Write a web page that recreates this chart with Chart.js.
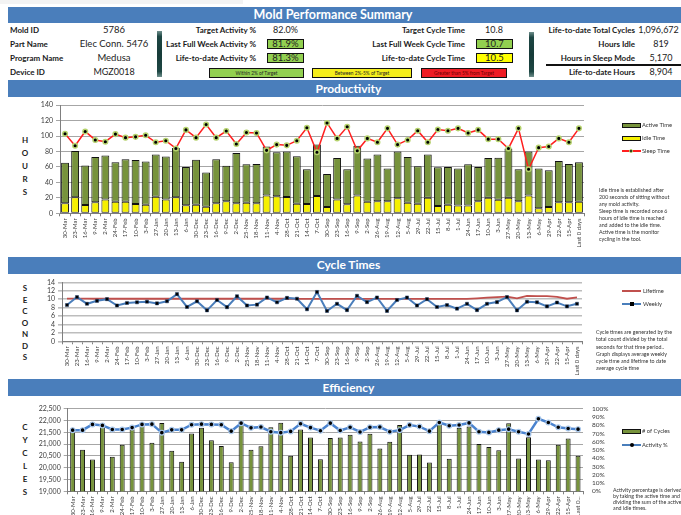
<!DOCTYPE html>
<html>
<head>
<meta charset="utf-8">
<script src="https://cdn.jsdelivr.net/npm/chart.js@4.4.0/dist/chart.umd.min.js"></script>
<style>
  body { margin: 0; background: #fff; font-family: Lato, sans-serif; }
  #page { position: relative; width: 681px; height: 515px; overflow: hidden; }
  .abs { position: absolute; white-space: nowrap; }
  .lbl { position: absolute; white-space: nowrap; font-weight: bold; font-size: 8px; color: #1a1a1a; height: 12px; line-height: 12px; }
  .val { position: absolute; white-space: nowrap; font-size: 9.5px; color: #222; height: 12px; line-height: 12px; text-align: center; }
  .box { position: absolute; box-sizing: border-box; border: 1px solid #111; font-size: 9.5px; text-align: center; line-height: 8px; color: #222; }
  .key { position: absolute; box-sizing: border-box; border: 1px solid #111; font-size: 4.8px; text-align: center; line-height: 8px; color: #222; }
  .band { position: absolute; left: 8px; width: 681px; background: #4a7ebb; color: #fff; font-weight: bold; font-size: 12px; text-align: center; }
  .divider { position: absolute; width: 5px; background: linear-gradient(to bottom, #6f8f8c 0%, #1e4744 12%, #173b39 50%, #1e4744 88%, #6f8f8c 100%); }
  .ytitle { position: absolute; left: 16px; width: 18px; text-align: center; font-weight: bold; font-size: 8px; color: #222; }
  .note { position: absolute; font-size: 5.3px; color: #333; white-space: nowrap; }
  .leg { position: absolute; font-size: 5.8px; color: #333; white-space: nowrap; line-height: 8px; height: 8px; }
  canvas { position: absolute; }
</style>
</head>
<body>
<div id="page">
  <div class="abs" style="left:0;top:0;width:243px;height:4px;background:#f3f3f3"></div>

  <!-- summary header -->
  <div class="band" style="top:7px;height:16px;line-height:16px;font-size:12.5px;text-indent:-31px">Mold Performance Summary</div>

  <div class="lbl" style="left:10px;top:24.3px">Mold ID</div>
  <div class="lbl" style="left:10px;top:37.5px">Part Name</div>
  <div class="lbl" style="left:10px;top:51.5px">Program Name</div>
  <div class="lbl" style="left:10px;top:66.3px">Device ID</div>
  <div class="val" style="left:70px;width:88px;top:24.3px">5786</div>
  <div class="val" style="left:70px;width:88px;top:37.5px">Elec Conn. 5476</div>
  <div class="val" style="left:70px;width:88px;top:51.5px">Medusa</div>
  <div class="val" style="left:70px;width:88px;top:66.3px;font-size:9px">MGZ0018</div>

  <div class="divider" style="left:157px;top:31px;height:46px"></div>
  <div class="divider" style="left:529px;top:32px;height:45px"></div>

  <div class="lbl" style="right:425px;top:24.3px">Target Activity %</div>
  <div class="lbl" style="right:425px;top:37.5px">Last Full Week Activity %</div>
  <div class="lbl" style="right:425px;top:51.5px">Life-to-date Activity %</div>
  <div class="val" style="left:265px;width:41px;top:24.3px;font-size:9px">82.0%</div>
  <div class="box" style="left:267px;top:39px;width:37px;height:10px;background:#92d050">81.9%</div>
  <div class="box" style="left:267px;top:53px;width:37px;height:10px;background:#92d050">81.3%</div>

  <div class="lbl" style="right:216px;top:24.3px">Target Cycle Time</div>
  <div class="lbl" style="right:216px;top:37.5px">Last Full Week Cycle Time</div>
  <div class="lbl" style="right:216px;top:51.5px">Life-to-date Cycle Time</div>
  <div class="val" style="left:474px;width:40px;top:24.3px;font-size:9px">10.8</div>
  <div class="box" style="left:476px;top:39px;width:37px;height:10px;background:#92d050">10.7</div>
  <div class="box" style="left:476px;top:53px;width:37px;height:10px;background:#ffff00">10.5</div>

  <div class="key" style="left:209px;top:68px;width:95px;height:9.5px;background:#92d050">Within 2% of Target</div>
  <div class="key" style="left:312px;top:68px;width:100px;height:9.5px;background:#f5ee1c">Between 2%-5% of Target</div>
  <div class="key" style="left:421px;top:68px;width:86px;height:9.5px;background:#ee1c24;color:#6a0000">Greater than 5% from Target</div>

  <div class="lbl" style="right:46px;top:24.3px">Life-to-date Total Cycles</div>
  <div class="lbl" style="right:46px;top:37.5px">Hours Idle</div>
  <div class="lbl" style="right:46px;top:51.5px">Hours in Sleep Mode</div>
  <div class="lbl" style="right:46px;top:66.3px">Life-to-date Hours</div>
  <div class="val" style="left:636px;width:45px;top:24.3px;font-size:9px">1,096,672</div>
  <div class="val" style="left:638px;width:46px;top:37.5px;font-size:9px">819</div>
  <div class="val" style="left:638px;width:46px;top:51.5px;font-size:9px">5,170</div>
  <div class="val" style="left:638px;width:46px;top:66.3px;font-size:9px">8,904</div>
  <div class="abs" style="left:546px;top:64px;width:135px;height:2px;background:#111"></div>

  <!-- productivity -->
  <div class="band" style="top:80px;height:17px;line-height:17px">Productivity</div>
  <div class="ytitle" style="top:133.5px;line-height:13px">H<br>O<br>U<br>R<br>S</div>
  <canvas id="prodChart" width="600" height="160" style="left:0;top:98px"></canvas>
  <div class="abs" style="left:622px;top:123px;width:19px;height:5px;border:1px solid #111;box-sizing:border-box;background:#77933c"></div>
  <div class="leg" style="left:642px;top:121.3px">Active Time</div>
  <div class="abs" style="left:622px;top:136px;width:19px;height:5px;border:1px solid #111;box-sizing:border-box;background:#f5f000"></div>
  <div class="leg" style="left:642px;top:134.3px">Idle Time</div>
  <div class="abs" style="left:622px;top:150.3px;width:19px;height:1.5px;background:#ff1f1f"></div>
  <div class="abs" style="left:629px;top:149px;width:4px;height:4px;border-radius:50%;background:#000;border:1px solid #b6d36e;box-sizing:border-box"></div>
  <div class="leg" style="left:642px;top:147px">Sleep Time</div>
  <div class="note" style="left:599px;top:187.2px;line-height:6.9px">Idle time is established after<br>200 seconds of sitting without<br>any mold activity.<br>Sleep time is recorded once 6<br>hours of idle time is reached<br>and added to the idle time.<br>Active time is the monitor<br>cycling in the tool.</div>

  <!-- cycle times -->
  <div class="band" style="top:257px;height:16.5px;line-height:16.5px">Cycle Times</div>
  <div class="ytitle" style="top:283px;line-height:11.5px">S<br>E<br>C<br>O<br>N<br>D<br>S</div>
  <canvas id="cycleChart" width="600" height="105" style="left:0;top:275px"></canvas>
  <div class="abs" style="left:622px;top:290px;width:19px;height:1.7px;background:#c0504d"></div>
  <div class="leg" style="left:643px;top:286.7px">Lifetime</div>
  <div class="abs" style="left:622px;top:303px;width:19px;height:1.7px;background:#4a7ebb"></div>
  <div class="abs" style="left:629.5px;top:301.8px;width:4px;height:4px;background:#000"></div>
  <div class="leg" style="left:643px;top:299.7px">Weekly</div>
  <div class="note" style="left:596px;top:329px;line-height:7.3px">Cycle times are generated by the<br>total count divided by the total<br>seconds for that time period..<br>Graph displays average weekly<br>cycle time and lifetime to date<br>average cycle time</div>

  <!-- efficiency -->
  <div class="band" style="top:379px;height:17px;line-height:17px">Efficiency</div>
  <div class="ytitle" style="top:421px;line-height:12.9px">C<br>Y<br>C<br>L<br>E<br>S</div>
  <canvas id="effChart" width="640" height="170" style="left:0;top:396px"></canvas>
  <div class="abs" style="left:622px;top:429px;width:19px;height:5px;border:1px solid #111;box-sizing:border-box;background:#77933c"></div>
  <div class="leg" style="left:642px;top:427px">&#35; of Cycles</div>
  <div class="abs" style="left:622px;top:444px;width:19px;height:2px;background:#4a7ebb"></div>
  <div class="abs" style="left:629.5px;top:443px;width:4px;height:4px;border-radius:50%;background:#000"></div>
  <div class="leg" style="left:642px;top:440.7px">Activity %</div>
  <div class="note" style="left:613px;top:488.3px;line-height:5.9px">Activity percentage is derived<br>by taking the active time and<br>dividing the sum of the active<br>and idle times.</div>
</div>

<script>
Chart.defaults.font.family = 'Lato';
Chart.defaults.color = '#404040';

const weeks = ['30-Mar','23-Mar','16-Mar','9-Mar','2-Mar','24-Feb','17-Feb','10-Feb','3-Feb','27-Jan',
  '20-Jan','13-Jan','6-Jan','30-Dec','23-Dec','16-Dec','9-Dec','2-Dec','25-Nov','18-Nov',
  '11-Nov','4-Nov','28-Oct','21-Oct','14-Oct','7-Oct','30-Sep','23-Sep','16-Sep','9-Sep',
  '2-Sep','26-Aug','19-Aug','12-Aug','5-Aug','29-Jul','22-Jul','15-Jul','8-Jul','1-Jul',
  '24-Jun','17-Jun','10-Jun','3-Jun','27-May','20-May','13-May','6-May','29-Apr','22-Apr',
  '15-Apr','Last 0 days'];
const effWeeks = weeks.slice(0, 51).concat(['Last 0...']);

// hours per week
const idleHours = [13, 20.7, 10.8, 14.2, 18, 15, 15, 12, 11, 21.5,
  18, 20.7, 10.3, 11, 8.6, 13, 15.5, 13, 13.8, 13,
  23, 22, 21, 12.5, 12, 22.4, 8, 18, 11.6, 23,
  15, 15.5, 15.5, 19.4, 13.8, 12.5, 20, 9.5, 11, 10,
  10, 15.5, 20, 17.7, 20, 15.5, 23, 6.5, 8, 14.2,
  14.2, 15];
const activeHours = [52.5, 59.9, 51.2, 58.6, 57, 51, 55, 57, 56, 54.5,
  55.7, 63.8, 49.7, 58.4, 44.4, 57, 46.1, 65, 49.6, 51,
  63.6, 57, 59, 61.5, 45, 66.6, 43, 53.5, 45.4, 64.5,
  56, 60.5, 42.5, 60.6, 59, 48.5, 56, 50, 49, 48,
  53.4, 44.5, 51.5, 54.3, 64, 41.5, 57, 51.5, 47.6, 53.5,
  49.8, 51];
const sleepHours = [103, 87.5, 106, 95, 92.7, 102.6, 98, 99, 101, 92,
  94, 84, 108, 98, 115, 98, 106.5, 89.7, 104.7, 104,
  81.5, 89, 88, 94, 110.7, 79, 117, 97, 112, 81,
  97, 92, 110, 89, 95, 107, 92, 108.6, 107, 110,
  104, 108, 96, 96, 84, 110, 57, 85, 86.6, 97,
  92, 110];

// cycle time, seconds
const weeklyCycle = [8.6, 10.5, 8.9, 9.6, 10.0, 8.5, 9.1, 9.25, 9.4, 9.0,
  9.5, 11.2, 8.15, 9.5, 7.35, 9.8, 8.1, 10.7, 8.5, 8.7,
  10.4, 9.25, 10.3, 10.1, 7.6, 11.7, 7.2, 8.9, 7.4, 10.8,
  9.3, 10.4, 7.2, 9.8, 10.4, 8.5, 10.0, 8.15, 8.6, 7.75,
  8.9, 7.4, 8.9, 9.3, 10.5, 7.35, 9.4, 9.25, 8.3, 9.2,
  8.3, 8.9];
const lifetimeCycle = [10.15, 10.15, 10.15, 10.1, 10.1, 10.1, 10.1, 10.1, 10.1, 10.1,
  10.1, 10.1, 10.1, 10.1, 10.1, 10.1, 10.1, 10.1, 10.1, 10.1,
  10.1, 10.1, 10.1, 10.05, 10.05, 10.05, 10.05, 10.05, 10.05, 10.05,
  10.05, 10.05, 10.05, 10.05, 10.05, 10.05, 10.05, 10.05, 10.05, 10.05,
  10.05, 10.2, 10.35, 10.5, 10.6, 10.2, 10.75, 10.7, 10.7, 10.55,
  10.1, 10.4];

// efficiency
const cycleCounts = [21580, 20770, 20350, 21750, 20470, 20975, 21640, 21780, 21060, 21900,
  20720, 20250, 21450, 21700, 21170, 20920, 20230, 21940, 20760, 20910,
  21720, 21910, 20510, 21620, 21280, 20360, 21260, 21290, 21400, 21110,
  21440, 20820, 21100, 21820, 20550, 20560, 20220, 21900, 20380, 21700,
  21750, 21010, 20880, 20740, 21890, 20390, 21300, 20350, 20320, 20980,
  21240, 20510];
const activityPct = [74.2, 74.2, 81.2, 80, 75, 75, 77.3, 81.2, 81.5, 71.2,
  74.6, 74.6, 80.8, 81.5, 81.2, 80.8, 73, 82.7, 77, 78,
  72.3, 71.2, 72.7, 82, 77.3, 73.5, 82.7, 73.8, 77.7, 72,
  77.7, 78, 72.3, 74.2, 80.4, 78.5, 73, 83.5, 79.6, 80.4,
  83, 72.3, 71.5, 74.2, 75.4, 72.3, 69.6, 88, 83.5, 77.7,
  76.2, 75.4];

const axisGray = '#7f7f7f';
const xTicks = { autoSkip: false, maxRotation: 90, minRotation: 90, padding: 2, font: { size: 6 } };

new Chart(document.getElementById('prodChart'), {
  type: 'bar',
  data: {
    labels: weeks,
    datasets: [{
      type: 'line',
      label: 'Sleep Time',
      data: sleepHours,
      borderColor: '#ff1f1f',
      borderWidth: 1.5,
      pointRadius: 2.3,
      pointBackgroundColor: '#000',
      pointBorderColor: '#b6d36e',
      pointBorderWidth: 1.5,
      stack: 'sleep',
      order: 0
    }, {
      label: 'Idle Time',
      data: idleHours,
      backgroundColor: '#f5f000',
      borderColor: '#111',
      borderWidth: 1,
      borderSkipped: false,
      barPercentage: 0.78,
      categoryPercentage: 1,
      stack: 'hours',
      order: 1
    }, {
      label: 'Active Time',
      data: activeHours,
      backgroundColor: '#77933c',
      borderColor: '#111',
      borderWidth: 1,
      borderSkipped: false,
      barPercentage: 0.78,
      categoryPercentage: 1,
      stack: 'hours',
      order: 1
    }]
  },
  options: {
    responsive: false,
    animation: false,
    layout: { padding: { left: 0, right: 16, top: 7, bottom: 0 } },
    plugins: { legend: { display: false }, tooltip: { enabled: false } },
    scales: {
      x: {
        stacked: true,
        grid: { offset: true, drawOnChartArea: false, tickLength: 3, color: axisGray },
        border: { color: axisGray },
        ticks: xTicks,
        afterFit(scale) { scale.height = 44.7; }
      },
      y: {
        stacked: true,
        min: 0,
        max: 140,
        ticks: { stepSize: 20, autoSkip: false, padding: 3, font: { size: 7 } },
        grid: { color: '#a6a6a6', tickLength: 4 },
        border: { color: axisGray },
        afterFit(scale) { scale.width = 60; }
      }
    }
  }
});

new Chart(document.getElementById('cycleChart'), {
  type: 'line',
  data: {
    labels: weeks,
    datasets: [{
      label: 'Weekly',
      data: weeklyCycle,
      borderColor: '#4a7ebb',
      borderWidth: 2,
      pointStyle: 'rect',
      pointRadius: 2.2,
      pointBackgroundColor: '#000',
      pointBorderColor: '#1f3f6a',
      pointBorderWidth: 0.5,
      order: 0
    }, {
      label: 'Lifetime',
      data: lifetimeCycle,
      borderColor: '#c0504d',
      borderWidth: 1.8,
      pointRadius: 0,
      order: 1
    }]
  },
  options: {
    responsive: false,
    animation: false,
    layout: { padding: { left: 0, right: 18, top: 7.3, bottom: 0 } },
    plugins: { legend: { display: false }, tooltip: { enabled: false } },
    scales: {
      x: {
        offset: true,
        grid: { offset: true, drawOnChartArea: false, tickLength: 3, color: axisGray },
        border: { color: axisGray },
        ticks: xTicks,
        afterFit(scale) { scale.height = 38.7; }
      },
      y: {
        min: 0,
        max: 14,
        ticks: { stepSize: 2, autoSkip: false, padding: 3, font: { size: 7 } },
        grid: { color: '#bdbdbd', lineWidth: 1.6, tickLength: 4 },
        border: { color: axisGray },
        afterFit(scale) { scale.width = 62; }
      }
    }
  }
});

new Chart(document.getElementById('effChart'), {
  type: 'bar',
  data: {
    labels: effWeeks,
    datasets: [{
      type: 'line',
      label: 'Activity %',
      data: activityPct,
      yAxisID: 'y1',
      borderColor: '#4a83cf',
      borderWidth: 2.5,
      pointRadius: 2.4,
      pointBackgroundColor: '#000',
      pointBorderColor: '#a9c8ec',
      pointBorderWidth: 1.2,
      order: 0
    }, {
      label: '# of Cycles',
      data: cycleCounts,
      yAxisID: 'y',
      backgroundColor: '#77933c',
      borderColor: '#111',
      borderWidth: 1,
      borderSkipped: false,
      barPercentage: 0.5,
      categoryPercentage: 1,
      order: 1
    }]
  },
  options: {
    responsive: false,
    animation: false,
    layout: { padding: { left: 0, right: 0, top: 9.7, bottom: 0 } },
    plugins: { legend: { display: false }, tooltip: { enabled: false } },
    scales: {
      x: {
        grid: { offset: true, drawOnChartArea: false, tickLength: 3, color: axisGray },
        border: { color: axisGray },
        ticks: xTicks,
        afterFit(scale) { scale.height = 74.7; }
      },
      y: {
        position: 'left',
        min: 19000,
        max: 22500,
        ticks: { stepSize: 500, autoSkip: false, padding: 3, font: { size: 7 }, callback: v => v.toLocaleString('en-US') },
        grid: { color: '#a6a6a6', tickLength: 4 },
        border: { color: axisGray },
        afterFit(scale) { scale.width = 67.7; }
      },
      y1: {
        position: 'right',
        min: 0,
        max: 100,
        ticks: { stepSize: 10, autoSkip: false, padding: 9, font: { size: 6.5 }, callback: v => v + '%' },
        grid: { display: false, drawTicks: false },
        border: { display: false },
        afterFit(scale) { scale.width = 57; }
      }
    }
  }
});
</script>
</body>
</html>
